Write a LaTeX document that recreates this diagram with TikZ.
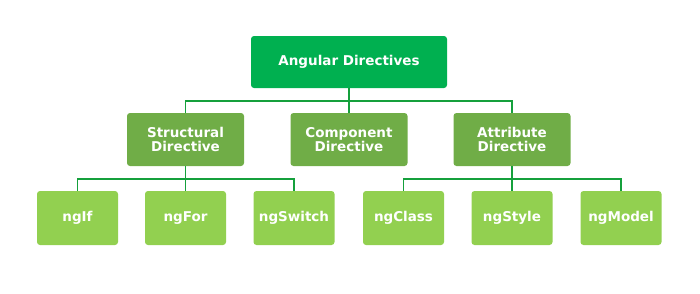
\documentclass[tikz,border=0pt]{standalone}
\usepackage{fontspec}
\setmainfont{DejaVu Sans}
\definecolor{topgreen}{HTML}{00B050}
\definecolor{midgreen}{HTML}{70AD47}
\definecolor{leafgreen}{HTML}{92D050}
\definecolor{linegreen}{HTML}{15A03C}
\begin{document}
\begin{tikzpicture}[x=1pt,y=-1pt,
  box/.style={rounded corners=3pt, text=white, align=center,
    font=\fontsize{13.5}{14}\selectfont\bfseries, inner sep=0pt},
  topbox/.style={box, fill=topgreen, minimum width=196pt, minimum height=52pt},
  midbox/.style={box, fill=midgreen, minimum width=117pt, minimum height=53pt},
  leafbox/.style={box, fill=leafgreen, minimum width=81pt, minimum height=54pt},
  conn/.style={draw=linegreen, line width=1.8pt}]
\useasboundingbox (0,0) rectangle (700,293);
\node[topbox] (root) at (349,62) {Angular Directives};
\node[midbox] (str) at (185.5,139.5) {Structural\\Directive};
\node[midbox] (cmp) at (349,139.5) {Component\\Directive};
\node[midbox] (att) at (512,139.5) {Attribute\\Directive};
\node[leafbox] (ngif) at (77.5,218) {ngIf};
\node[leafbox] (ngfor) at (185.5,218) {ngFor};
\node[leafbox] (ngsw) at (294,218) {ngSwitch};
\node[leafbox] (ngcl) at (403.5,218) {ngClass};
\node[leafbox] (ngst) at (512,218) {ngStyle};
\node[leafbox] (ngmo) at (621,218) {ngModel};
% root connectors
\coordinate (rj) at (349,101);
\draw[conn] (root.south) -- (rj);
\draw[conn] (str.north) |- (rj) -| (att.north);
\draw[conn] (rj) -- (cmp.north);
% structural
\coordinate (sj) at (185.5,179);
\draw[conn] (str.south) -- (sj);
\draw[conn] (ngif.north) |- (sj) -| (ngsw.north);
\draw[conn] (sj) -- (ngfor.north);
% attribute
\coordinate (aj) at (512,179);
\draw[conn] (att.south) -- (aj);
\draw[conn] (ngcl.north) |- (aj) -| (ngmo.north);
\draw[conn] (aj) -- (ngst.north);
\end{tikzpicture}
\end{document}
